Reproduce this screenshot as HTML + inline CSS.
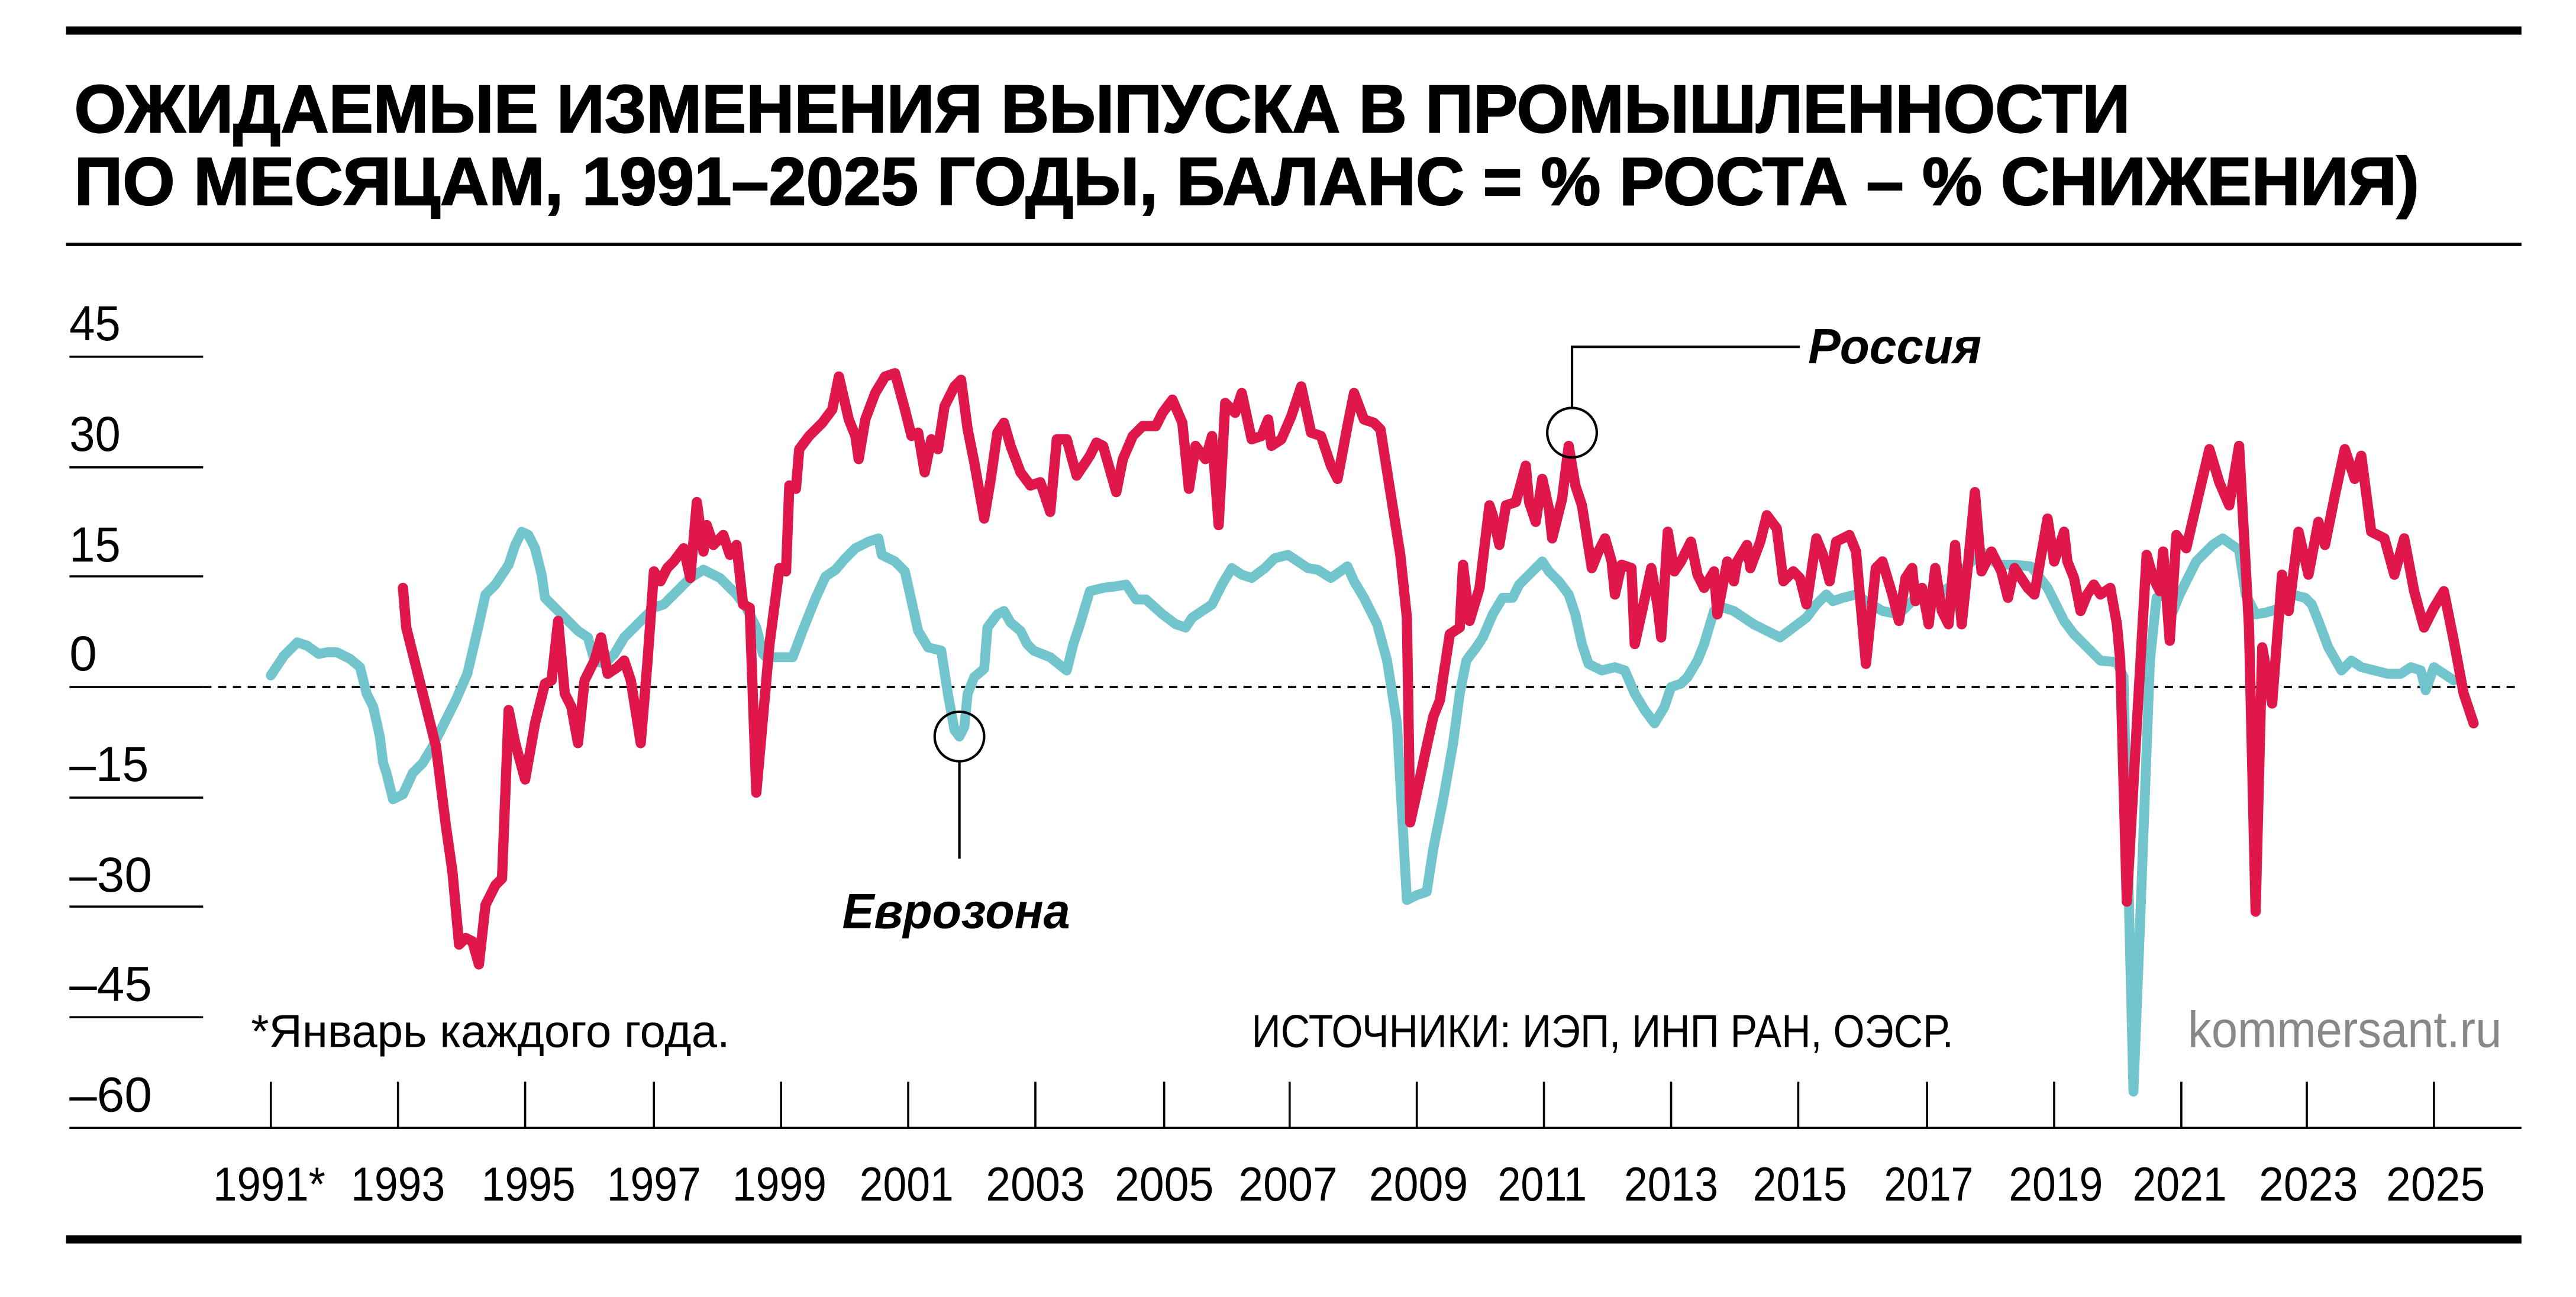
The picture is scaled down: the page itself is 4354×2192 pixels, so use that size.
<!DOCTYPE html>
<html><head><meta charset="utf-8"><style>
html,body{margin:0;padding:0;background:#fff;}
svg{display:block;}
text{font-family:"Liberation Sans","Noto Sans CJK SC",sans-serif;}
</style></head><body>
<svg width="4354" height="2192" viewBox="0 0 1560 785.4" xmlns="http://www.w3.org/2000/svg">
<rect x="0" y="0" width="1560" height="785.4" fill="#fff"/>
<rect x="40" y="16" width="1487" height="5" fill="#000"/>
<text x="45" y="80" font-size="41" font-weight="bold" textLength="1245" lengthAdjust="spacingAndGlyphs" stroke="#000" stroke-width="0.8">ОЖИДАЕМЫЕ ИЗМЕНЕНИЯ ВЫПУСКА В ПРОМЫШЛЕННОСТИ</text>
<text x="45" y="124" font-size="41" font-weight="bold" textLength="1420" lengthAdjust="spacingAndGlyphs" stroke="#000" stroke-width="0.8">ПО МЕСЯЦАМ, 1991–2025 ГОДЫ, БАЛАНС = % РОСТА – % СНИЖЕНИЯ)</text>
<rect x="40" y="147" width="1487" height="2" fill="#000"/>

<g stroke="#000" stroke-width="1.3">
<line x1="42" y1="216" x2="123" y2="216"/>
<line x1="42" y1="283" x2="123" y2="283"/>
<line x1="42" y1="349" x2="123" y2="349"/>
<line x1="42" y1="416" x2="123" y2="416"/>
<line x1="42" y1="483" x2="123" y2="483"/>
<line x1="42" y1="549" x2="123" y2="549"/>
<line x1="42" y1="616" x2="123" y2="616"/>
<line x1="42" y1="683" x2="1527" y2="683"/>
<line x1="123" y1="416" x2="1527" y2="416" stroke-dasharray="5,4"/>
</g>
<g font-size="30">
<text x="42" y="206" textLength="31" lengthAdjust="spacingAndGlyphs">45</text>
<text x="42" y="273" textLength="31" lengthAdjust="spacingAndGlyphs">30</text>
<text x="42" y="340" textLength="31" lengthAdjust="spacingAndGlyphs">15</text>
<text x="42" y="406">0</text>
<text x="42" y="473" textLength="48" lengthAdjust="spacingAndGlyphs">–15</text>
<text x="42" y="540" textLength="50" lengthAdjust="spacingAndGlyphs">–30</text>
<text x="42" y="606" textLength="50" lengthAdjust="spacingAndGlyphs">–45</text>
<text x="42" y="673" textLength="50" lengthAdjust="spacingAndGlyphs">–60</text>
</g>
<g stroke="#000" stroke-width="1.3">
<line x1="164" y1="655" x2="164" y2="683"/><line x1="241" y1="655" x2="241" y2="683"/>
<line x1="318" y1="655" x2="318" y2="683"/><line x1="396" y1="655" x2="396" y2="683"/>
<line x1="473" y1="655" x2="473" y2="683"/><line x1="550" y1="655" x2="550" y2="683"/>
<line x1="627" y1="655" x2="627" y2="683"/><line x1="705" y1="655" x2="705" y2="683"/>
<line x1="781" y1="655" x2="781" y2="683"/><line x1="858" y1="655" x2="858" y2="683"/>
<line x1="935" y1="655" x2="935" y2="683"/><line x1="1012" y1="655" x2="1012" y2="683"/>
<line x1="1089" y1="655" x2="1089" y2="683"/><line x1="1167" y1="655" x2="1167" y2="683"/>
<line x1="1244" y1="655" x2="1244" y2="683"/><line x1="1321" y1="655" x2="1321" y2="683"/>
<line x1="1397" y1="655" x2="1397" y2="683"/><line x1="1474" y1="655" x2="1474" y2="683"/>
</g>
<g font-size="29" text-anchor="middle">
<text x="163" y="727" textLength="68" lengthAdjust="spacingAndGlyphs">1991*</text>
<text x="241" y="727" textLength="57" lengthAdjust="spacingAndGlyphs">1993</text>
<text x="320" y="727" textLength="57" lengthAdjust="spacingAndGlyphs">1995</text>
<text x="396" y="727" textLength="57" lengthAdjust="spacingAndGlyphs">1997</text>
<text x="472" y="727" textLength="57" lengthAdjust="spacingAndGlyphs">1999</text>
<text x="549" y="727" textLength="57" lengthAdjust="spacingAndGlyphs">2001</text>
<text x="627" y="727" textLength="60" lengthAdjust="spacingAndGlyphs">2003</text>
<text x="705" y="727" textLength="60" lengthAdjust="spacingAndGlyphs">2005</text>
<text x="780" y="727" textLength="60" lengthAdjust="spacingAndGlyphs">2007</text>
<text x="859" y="727" textLength="60" lengthAdjust="spacingAndGlyphs">2009</text>
<text x="934" y="727" textLength="54" lengthAdjust="spacingAndGlyphs">2011</text>
<text x="1012" y="727" textLength="57" lengthAdjust="spacingAndGlyphs">2013</text>
<text x="1090" y="727" textLength="57" lengthAdjust="spacingAndGlyphs">2015</text>
<text x="1168" y="727" textLength="54" lengthAdjust="spacingAndGlyphs">2017</text>
<text x="1245" y="727" textLength="57" lengthAdjust="spacingAndGlyphs">2019</text>
<text x="1320" y="727" textLength="57" lengthAdjust="spacingAndGlyphs">2021</text>
<text x="1398" y="727" textLength="60" lengthAdjust="spacingAndGlyphs">2023</text>
<text x="1475" y="727" textLength="60" lengthAdjust="spacingAndGlyphs">2025</text>
</g>
<rect x="40" y="748" width="1487" height="5" fill="#000"/>

<text x="152" y="634" font-size="28" textLength="290" lengthAdjust="spacingAndGlyphs">*Январь каждого года.</text>
<text x="758" y="634" font-size="28" textLength="425" lengthAdjust="spacingAndGlyphs">ИСТОЧНИКИ: ИЭП, ИНП РАН, ОЭСР.</text>

<polyline fill="none" stroke="#72C5CC" stroke-width="6" stroke-linejoin="round" stroke-linecap="round" points="164,409 172,397 180,389 186,391 193,396 198,395 204,395 212,399 218,404 222,420 226,428 230,446 232,462 234,468 238,484 244,481 250,468 256,462 262,452 268,440 276,424 283,408 290,378 294,360 300,354 308,342 312,330 316,322 320,324 324,332 328,348 330,362 340,372 350,382 356,386 360,400 366,402 372,396 378,386 388,376 396,368 402,366 410,358 418,350 426,345 436,350 446,360 452,368 458,380 462,396 464,398 470,398 480,398 486,382 494,362 500,349 506,345 512,338 518,332 526,328 532,326 534,336 542,340 548,346 552,364 556,382 562,392 570,394 574,420 578,442 581,446 584,440 586,420 590,410 596,405 598,380 604,372 608,370 612,377 618,382 622,390 626,394 636,398 646,406 650,390 654,378 660,358 668,356 676,355 682,354 688,363 694,363 704,372 712,378 718,380 722,374 728,370 734,366 740,354 746,344 752,348 758,350 766,344 772,338 780,336 786,340 792,344 798,345 806,350 816,343 820,352 826,362 834,378 840,400 846,438 852,545 858,542 864,540 868,514 874,484 880,450 884,420 888,400 894,392 898,386 904,372 910,362 916,362 920,354 928,346 934,340 938,346 944,352 950,360 954,372 958,390 962,402 970,406 978,404 984,406 990,420 996,430 1002,438 1008,428 1012,416 1018,414 1022,410 1028,400 1032,390 1038,370 1044,368 1050,370 1056,374 1062,378 1070,382 1078,386 1086,380 1094,374 1100,366 1106,360 1110,364 1116,362 1124,360 1130,364 1140,370 1150,372 1158,364 1164,358 1170,362 1176,358 1184,354 1190,344 1196,338 1200,334 1210,342 1220,342 1230,343 1240,356 1250,376 1256,384 1266,394 1272,400 1282,401 1286,410 1292,661 1296,560 1302,400 1306,362 1312,360 1316,370 1320,360 1330,340 1340,330 1346,326 1356,333 1360,360 1366,372 1372,371 1382,368 1388,360 1396,362 1400,366 1404,376 1410,392 1418,406 1424,400 1430,404 1438,406 1446,408 1454,408 1460,404 1466,406 1469,418 1474,404 1480,408 1486,412"/>

<polyline fill="none" stroke="#E0174A" stroke-width="6.2" stroke-linejoin="round" stroke-linecap="round" points="244,356 246,380 252,404 258,428 264,452 270,500 274,528 278,572 282,568 286,570 290,584 294,548 300,536 304,532 308,430 312,450 318,472 324,438 330,414 334,412 338,376 342,420 346,428 350,450 354,412 360,400 364,386 368,408 374,404 378,400 382,412 388,450 392,402 396,346 400,352 404,344 408,340 414,332 418,350 422,304 426,334 428,318 432,330 438,324 442,336 446,330 450,366 454,368 458,480 466,390 472,344 476,346 478,294 482,296 484,272 490,264 498,256 504,248 508,228 514,254 518,264 520,278 524,254 530,238 536,228 542,226 548,248 552,264 556,262 560,286 564,266 568,272 572,246 578,234 582,230 586,260 590,280 596,314 600,290 604,262 608,256 612,270 618,286 624,294 630,292 636,310 640,266 646,266 652,288 660,276 664,268 668,270 676,298 680,278 686,264 692,258 700,258 704,250 710,242 716,256 720,296 724,270 730,278 734,264 738,318 742,244 748,250 752,238 758,266 764,264 768,254 770,270 776,266 782,252 788,234 794,262 800,264 806,282 810,290 816,258 820,238 826,254 832,256 836,260 848,336 852,374 854,498 858,480 864,452 868,434 872,424 874,410 878,384 884,380 886,342 890,376 896,356 902,306 904,312 908,330 912,306 918,304 924,282 926,304 930,316 934,290 938,308 940,326 946,302 950,270 954,294 958,306 964,344 968,334 972,326 976,340 978,360 982,342 988,344 990,390 994,372 1000,344 1004,368 1006,386 1010,322 1014,346 1018,340 1024,328 1028,348 1032,356 1038,346 1040,372 1046,340 1050,352 1052,340 1058,330 1060,344 1066,328 1070,312 1076,320 1080,352 1086,346 1090,350 1094,366 1100,326 1104,336 1108,352 1112,328 1120,324 1124,334 1130,402 1136,344 1140,340 1146,360 1150,376 1154,350 1158,344 1160,364 1164,356 1168,378 1172,344 1176,370 1180,378 1184,330 1188,378 1192,340 1196,298 1200,346 1206,334 1212,346 1216,362 1220,344 1228,356 1232,360 1240,314 1244,340 1250,322 1252,340 1256,350 1260,370 1264,360 1268,354 1272,360 1278,356 1282,378 1284,400 1288,546 1294,440 1300,336 1304,350 1308,358 1310,334 1314,388 1318,324 1324,332 1330,306 1338,272 1344,292 1350,306 1356,270 1362,380 1366,552 1370,392 1376,426 1382,348 1386,370 1392,322 1398,348 1404,316 1408,330 1414,300 1420,272 1426,290 1430,276 1436,322 1444,326 1450,348 1456,326 1462,358 1468,380 1474,368 1480,358 1486,388 1492,420 1498,438"/>

<g fill="none" stroke="#000" stroke-width="1.5">
<circle cx="952" cy="262" r="15"/>
<polyline points="952,247 952,210 1090,210"/>
<circle cx="581" cy="446" r="15"/>
<line x1="581" y1="461" x2="581" y2="520"/>
</g>
<text x="1095" y="220" font-size="30" font-weight="bold" font-style="italic" textLength="105" lengthAdjust="spacingAndGlyphs">Россия</text>
<text x="510" y="562" font-size="30" font-weight="bold" font-style="italic" textLength="138" lengthAdjust="spacingAndGlyphs">Еврозона</text>
<text x="1325" y="634" font-size="31" fill="#888" textLength="190" lengthAdjust="spacingAndGlyphs">kommersant.ru</text>
</svg>
</body></html>
